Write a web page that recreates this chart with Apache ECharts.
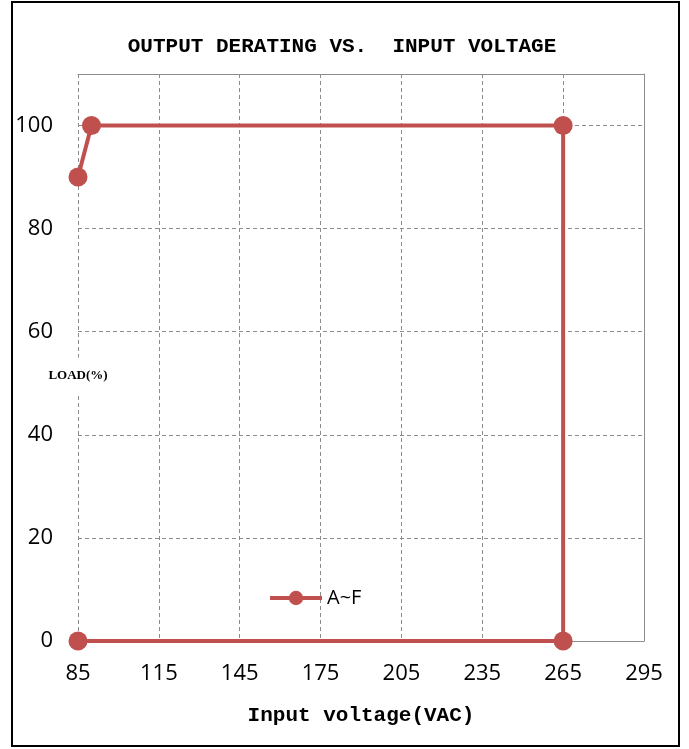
<!DOCTYPE html>
<html>
<head>
<meta charset="utf-8">
<script src="https://cdn.jsdelivr.net/npm/echarts@6/dist/echarts.min.js"></script>
<style>
html,body{margin:0;padding:0;background:#fff;}
#wrap{position:relative;width:689px;height:749px;}
#chart{position:absolute;left:0;top:0;width:689px;height:749px;}
#frame{position:absolute;left:11px;top:1px;width:665px;height:742px;border:2px solid #000;pointer-events:none;}
</style>
</head>
<body>
<div id="wrap"><div id="chart"></div><div id="frame"></div></div>
<script>
// Data
const titleText = 'OUTPUT DERATING VS.  INPUT VOLTAGE';
const xAxisName = 'Input voltage(VAC)';
const yAxisName = 'LOAD(%)';
const seriesName = 'A~F';
const voltages = [85, 90, 265, 265, 85];
const loads = [90, 100, 100, 0, 0];
const xMin = 85, xMax = 295, xStep = 30;
const yMin = 0, yMax = 110, yStep = 20;

const red = '#C0504D';
const gridGray = '#8c8c8c';
const labelFont = 'Open Sans';
const monoFont = 'Liberation Mono';

const chart = echarts.init(document.getElementById('chart'), null, {renderer: 'canvas'});
chart.setOption({
  animation: false,
  backgroundColor: '#fff',
  title: {
    text: titleText,
    left: 337, textAlign: 'center', top: 31,
    textStyle: {fontFamily: monoFont, fontSize: 21, fontWeight: 'bold', color: '#000'}
  },
  legend: {
    data: [{name: seriesName, lineStyle: {width: 4}}],
    left: 263, top: 583,
    itemWidth: 52, itemHeight: 18,
    lineStyle: {width: 4},
    textStyle: {fontFamily: labelFont, fontSize: 20, color: '#000'},
    itemGap: 5
  },
  grid: {left: 78, right: 45, top: 74, bottom: 108, containLabel: false, outerBoundsMode: 'none'},
  xAxis: [{
    type: 'value', min: xMin, max: xMax, interval: xStep,
    name: xAxisName, nameLocation: 'middle', nameGap: 64, nameMoveOverlap: false,
    nameTextStyle: {fontFamily: monoFont, fontSize: 21, fontWeight: 'bold', color: '#000'},
    axisLine: {show: true, lineStyle: {color: gridGray, width: 1}},
    axisTick: {show: false},
    axisLabel: {fontFamily: labelFont, fontSize: 22, color: '#000', margin: 22},
    splitLine: {show: true, lineStyle: {color: gridGray, type: [4, 3], width: 1}}
  }, {
    type: 'value', min: xMin, max: xMax, interval: xStep, position: 'top',
    axisLine: {show: true, onZero: false, lineStyle: {color: gridGray, width: 1}},
    axisTick: {show: false}, axisLabel: {show: false}, splitLine: {show: false}
  }],
  yAxis: [{
    type: 'value', min: yMin, max: yMax, interval: yStep,
    name: yAxisName, nameLocation: 'middle', nameRotate: 0, nameGap: 0, nameMoveOverlap: false,
    nameTextStyle: {
      fontFamily: 'Liberation Serif', fontSize: 13, fontWeight: 'bold', color: '#000',
      align: 'center', verticalAlign: 'top',
      backgroundColor: '#fff', padding: [12, 4, 12, 4]
    },
    axisLine: {show: false},
    axisTick: {show: false},
    axisLabel: {
      fontFamily: labelFont, fontSize: 22, color: '#000', margin: 25,
      formatter: v => (v > 100 ? '' : String(v))
    },
    splitLine: {show: true, lineStyle: {color: gridGray, type: [4, 3], width: 1}}
  }, {
    type: 'value', min: yMin, max: yMax, interval: yStep, position: 'right',
    axisLine: {show: true, onZero: false, lineStyle: {color: gridGray, width: 1}},
    axisTick: {show: false}, axisLabel: {show: false}, splitLine: {show: false}
  }],
  series: [{
    name: seriesName,
    type: 'line',
    data: voltages.map((v, i) => [v, loads[i]]),
    lineStyle: {color: red, width: 4},
    itemStyle: {color: red},
    symbol: 'circle', symbolSize: 19,
    z: 5
  }]
});
</script>
</body>
</html>
